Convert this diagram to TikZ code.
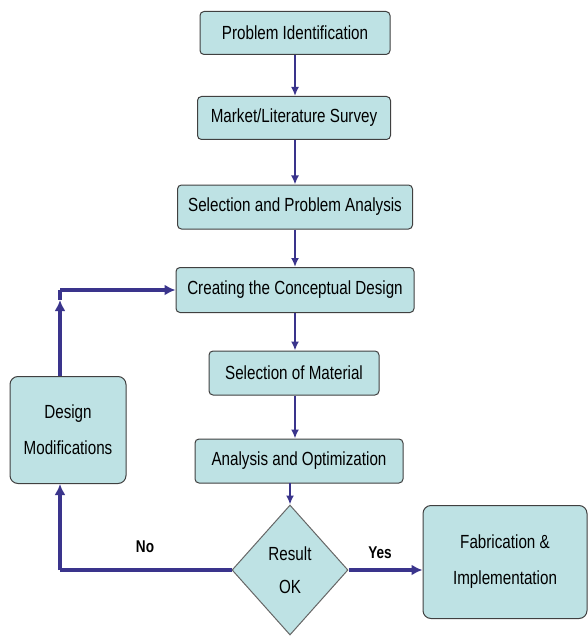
\documentclass[tikz,border=0pt]{standalone}
\usepackage{fontspec}
\setmainfont[FakeStretch=0.8]{Liberation Sans}
\usetikzlibrary{shapes.geometric,positioning,arrows.meta}

\definecolor{boxfill}{RGB}{190,226,228}
\definecolor{flowblue}{RGB}{58,52,140}

\begin{document}
\begin{tikzpicture}[x=1pt,y=-1pt,
    box/.style={draw=black!75, line width=1pt, fill=boxfill, rounded corners=4pt,
        font=\fontsize{19}{36}\selectfont, inner sep=2pt, align=center},
    test/.style={draw=black!60, line width=1pt, fill=boxfill, diamond, aspect=0.9,
        minimum width=116pt, minimum height=130pt, inner sep=0pt,
        font=\fontsize{19}{33}\selectfont, align=center},
    flow/.style={draw=flowblue, line width=1.8pt, -{Latex[length=9pt,width=8pt]}},
    loop/.style={draw=flowblue, line width=3.5pt},
    bigflow/.style={draw=flowblue, line width=3.5pt, -{Latex[length=11pt,width=11pt]}},
    ans/.style={font=\bfseries\fontsize{17}{20}\selectfont}]
        \useasboundingbox (0,0) rectangle (587,639);

        \node[box, minimum width=190pt, minimum height=43pt] at (295, 33)(ident){Problem Identification};
        \node[box, minimum width=193pt, minimum height=43pt] at (294, 118)(survey){Market/Literature Survey};
        \node[box, minimum width=235pt, minimum height=44pt] at (295, 207)(select){Selection and Problem Analysis};
        \node[box, minimum width=238pt, minimum height=45pt] at (295, 290)(concept){Creating the Conceptual Design};
        \node[box, minimum width=170pt, minimum height=44pt] at (294, 373)(material){Selection of Material};
        \node[box, minimum width=208pt, minimum height=44pt] at (299, 461)(optim){Analysis and Optimization};
        \node[test] at (290, 570)(result){Result\\OK};
        \node[box, minimum width=164pt, minimum height=113pt, rounded corners=8pt] at (505, 562)(fab){Fabrication \&\\Implementation};
        \node[box, minimum width=116pt, minimum height=107pt, rounded corners=8pt] at (68, 430)(modif){Design\\Modifications};

        \coordinate (low) at (60, 570);
        \coordinate (up) at (60, 290);
        \coordinate (tip) at (60, 300);
        \coordinate (drop) at (290, 483);

        \path
        (ident.south)edge[flow](ident.south |- survey.north)
        (survey.south -| ident.south)edge[flow](ident.south |- select.north)
        (select.south -| ident.south)edge[flow](ident.south |- concept.north)
        (concept.south -| ident.south)edge[flow](ident.south |- material.north)
        (material.south -| ident.south)edge[flow](ident.south |- optim.north)
        (drop)edge[flow](result.north)
        ;

        % loop back
        \draw[loop] (result.west) -- (low);
        \draw[bigflow] (low) -- (modif.south -| low);
        \draw[bigflow] (modif.north -| low) -- (tip);
        \draw[loop] (tip) -- (up);
        \draw[bigflow] (up) -- (concept.west);
        \draw[bigflow] (result.east) -- (fab.west |- result.east);

        \node[ans] at (145, 547)(no){No};
        \node[ans] at (380, 553)(yes){Yes};
    \end{tikzpicture}
\end{document}
